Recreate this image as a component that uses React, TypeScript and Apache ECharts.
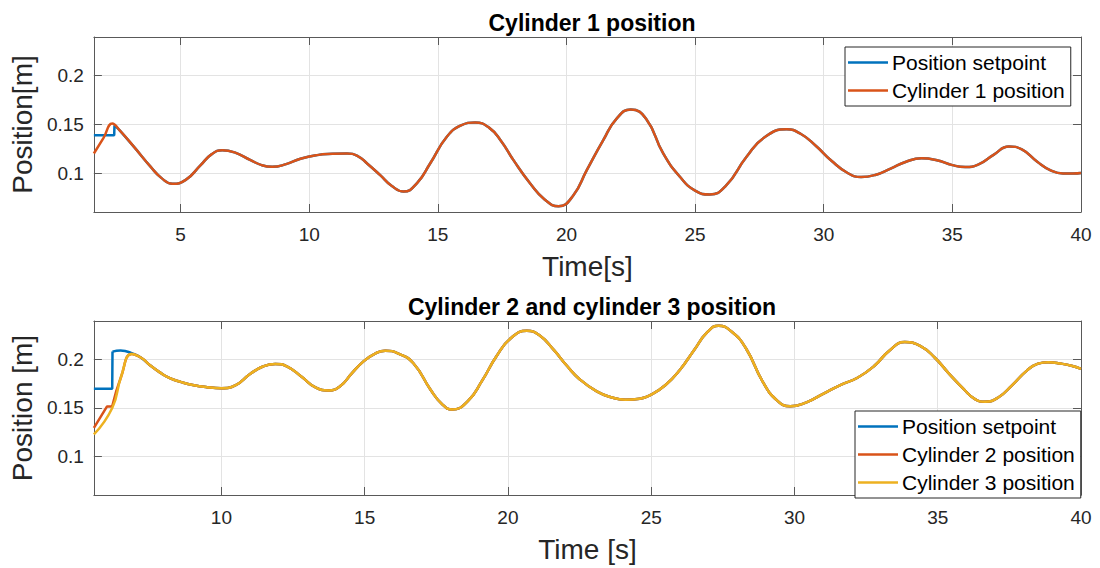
import React, { useEffect, useRef } from "react";
import * as echarts from "echarts";

const FONT = "'Liberation Sans', Arial, Helvetica, sans-serif";
const BLUE = "#0072BD";
const ORANGE = "#D95319";
const YELLOW = "#EDB120";

// axis ranges / tick labels
const topXMin = 1.63;
const bottomXMin = 5.55;
const xMax = 40;
const yMin = 0.0607;
const yMax = 0.2392;
const topXTicks = [5, 10, 15, 20, 25, 30, 35, 40];
const bottomXTicks = [10, 15, 20, 25, 30, 35, 40];
const yTicks = [0.1, 0.15, 0.2];

// ---- Cylinder 1 (top plot) ----
const cyl1Time = [1.63, 2.0, 2.35, 2.6, 3.19, 3.84, 4.25, 4.68, 5.2, 5.78, 6.2, 6.62, 7.1, 7.72, 8.15, 8.56, 9.1, 9.66, 10.31, 10.9, 11.47, 11.9, 12.25, 12.76, 13.2, 13.67, 14.2, 14.7, 15.35, 15.9, 16.45, 17.0, 17.45, 17.94, 18.59, 19.15, 19.69, 20.25, 20.79, 21.43, 21.95, 22.5, 23.1, 23.76, 24.41, 25.0, 25.57, 26.2, 27.0, 27.7, 28.56, 29.1, 29.7, 30.3, 30.9, 31.45, 32.0, 32.6, 33.2, 33.8, 34.4, 35.0, 35.5, 36.0, 36.6, 37.2, 37.7, 38.3, 38.8, 39.3, 39.7, 40.0];
const cyl1Pos = [0.1204, 0.136, 0.151, 0.145, 0.1271, 0.1067, 0.0955, 0.0895, 0.0935, 0.1085, 0.1195, 0.1238, 0.1215, 0.1136, 0.1085, 0.1068, 0.1095, 0.115, 0.1187, 0.12, 0.1204, 0.1175, 0.1102, 0.0983, 0.0875, 0.0815, 0.0905, 0.1102, 0.1374, 0.149, 0.152, 0.1465, 0.1335, 0.1136, 0.0898, 0.0735, 0.0666, 0.077, 0.1034, 0.134, 0.156, 0.1653, 0.1555, 0.1204, 0.0966, 0.0825, 0.0786, 0.0875, 0.117, 0.137, 0.145, 0.1405, 0.128, 0.113, 0.101, 0.0963, 0.0985, 0.105, 0.112, 0.1155, 0.1135, 0.1085, 0.1065, 0.109, 0.119, 0.1275, 0.1245, 0.112, 0.1035, 0.1, 0.1, 0.1005];
const setpoint1StepTime = [1.63, 2.42, 2.43];
const setpoint1StepPos = [0.139, 0.139, 0.149];
const setpoint1MergeTime = 2.6;
const setpoint1MergePos = 0.145;

// ---- Cylinders 2 and 3 (bottom plot) ----
const cyl3Time = [5.55, 6.19, 6.5, 6.87, 7.2, 7.52, 7.85, 8.2, 8.6, 9.0, 9.5, 10.0, 10.5, 11.0, 11.45, 11.88, 12.3, 12.8, 13.3, 13.74, 14.15, 14.55, 14.95, 15.35, 15.72, 16.2, 16.7, 17.3, 17.7, 18.05, 18.6, 19.1, 19.6, 20.1, 20.66, 21.1, 21.6, 22.05, 22.5, 23.1, 23.6, 24.1, 24.6, 25.0, 25.5, 26.0, 26.5, 26.95, 27.35, 27.8, 28.3, 28.9, 29.4, 29.85, 30.4, 31.0, 31.6, 32.2, 32.8, 33.3, 33.85, 34.4, 34.9, 35.4, 35.9, 36.3, 36.65, 37.1, 37.6, 38.1, 38.5, 38.85, 39.3, 39.7, 40.0];
const cyl3Pos = [0.1228, 0.15, 0.182, 0.2053, 0.2015, 0.1935, 0.1865, 0.1805, 0.1765, 0.1735, 0.1713, 0.1703, 0.1735, 0.1848, 0.1925, 0.1952, 0.1925, 0.182, 0.1708, 0.168, 0.1725, 0.1855, 0.1975, 0.2055, 0.2088, 0.2055, 0.1959, 0.1687, 0.154, 0.1483, 0.157, 0.178, 0.203, 0.2215, 0.2292, 0.2245, 0.2095, 0.1935, 0.1795, 0.167, 0.161, 0.1585, 0.1595, 0.1636, 0.1735, 0.189, 0.2095, 0.2275, 0.2343, 0.2285, 0.2115, 0.1765, 0.1575, 0.1517, 0.1555, 0.1645, 0.1735, 0.181, 0.1935, 0.2085, 0.2176, 0.2135, 0.2015, 0.185, 0.1695, 0.159, 0.1564, 0.1605, 0.1735, 0.188, 0.1955, 0.197, 0.1955, 0.193, 0.19];
const cyl2StartTime = [5.55, 6.01, 6.19];
const cyl2StartPos = [0.1296, 0.1516, 0.1516];
const setpoint2StepTime = [5.55, 6.19, 6.2];
const setpoint2StepPos = [0.1697, 0.1697, 0.2078];
const setpoint2TopTime = [6.2, 6.48, 6.94];
const setpoint2TopPos = [0.2078, 0.209, 0.2054];

const zip = (t: number[], v: number[]) => t.map((x, i) => [x, v[i]]);

const cyl1 = zip(cyl1Time, cyl1Pos);
const sp1Step = zip(setpoint1StepTime, setpoint1StepPos).concat([[setpoint1MergeTime, setpoint1MergePos]]);
const sp1Tail = cyl1.filter((p) => p[0] >= setpoint1MergeTime);
const cyl3 = zip(cyl3Time, cyl3Pos);
const cyl2Step = zip(cyl2StartTime, cyl2StartPos);
const cyl2Tail = [cyl2Step[cyl2Step.length - 1]].concat(cyl3.filter((p) => p[0] > cyl2StartTime[cyl2StartTime.length - 1]));
const sp2Step = zip(setpoint2StepTime, setpoint2StepPos);
const sp2Tail = zip(setpoint2TopTime, setpoint2TopPos).concat(cyl3.filter((p) => p[0] > setpoint2TopTime[setpoint2TopTime.length - 1]));

const AXIS_COLOR = "#595959";
const TEXT_COLOR = "#262626";
const GRID_COLOR = "#e3e3e3";

function xAxesFor(gridIndex: number, min: number, ticks: number[], name: string) {
  return [
    {
      type: "value", gridIndex, min, max: xMax, position: "bottom",
      name, nameLocation: "middle", nameGap: 40,
      nameTextStyle: { fontSize: 28, color: TEXT_COLOR, fontFamily: FONT },
      axisLine: { show: true, onZero: false, lineStyle: { color: AXIS_COLOR, width: 1 } },
      axisTick: { show: true, inside: true, length: 8, customValues: ticks, lineStyle: { color: AXIS_COLOR } },
      axisLabel: { show: true, customValues: ticks, color: TEXT_COLOR, fontSize: 19, fontFamily: FONT, margin: 13 },
      splitLine: { show: true, lineStyle: { color: GRID_COLOR, width: 1 } },
    },
    {
      type: "value", gridIndex, min, max: xMax, position: "top",
      axisLine: { show: true, onZero: false, lineStyle: { color: AXIS_COLOR, width: 1 } },
      axisTick: { show: true, inside: true, length: 8, customValues: ticks, lineStyle: { color: AXIS_COLOR } },
      axisLabel: { show: false },
      splitLine: { show: false },
    },
  ];
}

function yAxesFor(gridIndex: number, name: string) {
  return [
    {
      type: "value", gridIndex, min: yMin, max: yMax, position: "left",
      name, nameLocation: "middle", nameGap: 52,
      nameTextStyle: { fontSize: 28, color: TEXT_COLOR, fontFamily: FONT },
      axisLine: { show: true, onZero: false, lineStyle: { color: AXIS_COLOR, width: 1 } },
      axisTick: { show: true, inside: true, length: 8, customValues: yTicks, lineStyle: { color: AXIS_COLOR } },
      axisLabel: { show: true, customValues: yTicks, color: TEXT_COLOR, fontSize: 19, fontFamily: FONT, margin: 10 },
      splitLine: { show: true, lineStyle: { color: GRID_COLOR, width: 1 } },
    },
    {
      type: "value", gridIndex, min: yMin, max: yMax, position: "right",
      axisLine: { show: true, onZero: false, lineStyle: { color: AXIS_COLOR, width: 1 } },
      axisTick: { show: true, inside: true, length: 8, customValues: yTicks, lineStyle: { color: AXIS_COLOR } },
      axisLabel: { show: false },
      splitLine: { show: false },
    },
  ];
}

function line(name: string, data: number[][], color: string, xi: number, yi: number, smooth: boolean | number) {
  return {
    type: "line", name, data, xAxisIndex: xi, yAxisIndex: yi, smooth,
    showSymbol: false, symbol: "none", lineStyle: { color, width: 2.5 }, itemStyle: { color },
    silent: true,
  };
}

const legendCommon = {
  orient: "vertical",
  backgroundColor: "#ffffff",
  borderColor: "#262626",
  borderWidth: 1,
  borderRadius: 0,
  icon: "rect",
  itemWidth: 40,
  itemHeight: 2.5,
  itemGap: 7,
  padding: [5, 6, 5, 3],
  textStyle: { fontSize: 21, color: "#000", fontFamily: FONT, padding: [0, 0, 0, -1] },
  selectedMode: false,
};

export default function App() {
  const ref = useRef<HTMLDivElement>(null);
  useEffect(() => {
    if (!ref.current) return;
    const chart = echarts.init(ref.current, undefined, { renderer: "svg" });
    chart.setOption({
      animation: false,
      backgroundColor: "#ffffff",
      title: [
        { text: "Cylinder 1 position", left: 587, top: 6, textAlign: "center",
          textStyle: { fontSize: 23, fontWeight: "bold", color: "#000", fontFamily: FONT } },
        { text: "Cylinder 2 and cylinder 3 position", left: 587, top: 290, textAlign: "center",
          textStyle: { fontSize: 23, fontWeight: "bold", color: "#000", fontFamily: FONT } },
      ],
      grid: [
        { left: 93, top: 37, width: 988, height: 175 },
        { left: 93, top: 321, width: 988, height: 174 },
      ],
      xAxis: [
        ...xAxesFor(0, topXMin, topXTicks, "Time[s]"),
        ...xAxesFor(1, bottomXMin, bottomXTicks, "Time [s]"),
      ],
      yAxis: [
        ...yAxesFor(0, "Position[m]"),
        ...yAxesFor(1, "Position [m]"),
      ],
      legend: [
        { ...legendCommon, left: 845, top: 47, data: ["Position setpoint", "Cylinder 1 position"] },
        { ...legendCommon, left: 855, top: 411, data: ["Position setpoint", "Cylinder 2 position", "Cylinder 3 position"] },
      ],
      series: [
        line("Position setpoint", sp1Step, BLUE, 0, 0, false),
        line("Position setpoint", sp1Tail, BLUE, 0, 0, 0.5),
        line("Cylinder 1 position", cyl1, ORANGE, 0, 0, 0.5),
        line("Position setpoint", sp2Step, BLUE, 2, 2, false),
        line("Position setpoint", sp2Tail, BLUE, 2, 2, 0.5),
        line("Cylinder 2 position", cyl2Step, ORANGE, 2, 2, false),
        line("Cylinder 2 position", cyl2Tail, ORANGE, 2, 2, 0.5),
        line("Cylinder 3 position", cyl3, YELLOW, 2, 2, 0.5),
      ],
    });
    return () => chart.dispose();
  }, []);
  return (
    <div
      ref={ref}
      style={{ position: "absolute", left: 0, top: 0, width: 1100, height: 568, background: "#fff" }}
    />
  );
}
